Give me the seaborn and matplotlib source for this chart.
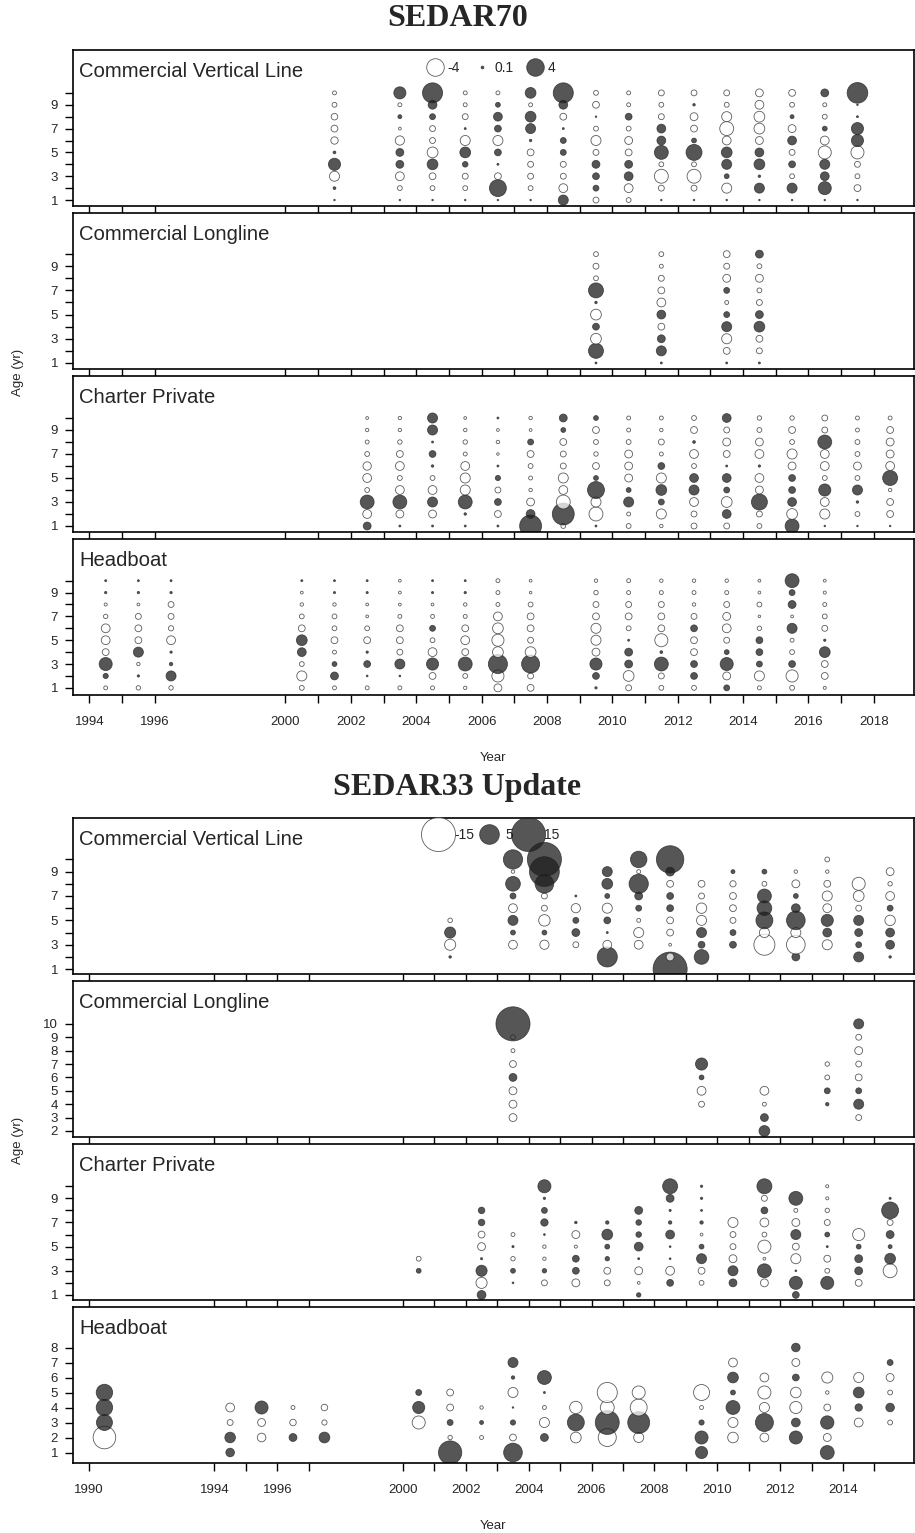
import numpy as np
import pandas as pd
import seaborn as sns
import matplotlib.pyplot as plt
from matplotlib.lines import Line2D

sns.set_style("ticks")
plt.rcParams['font.family'] = ['Liberation Sans', 'DejaVu Sans']

# ---- data: age composition residuals, columns are ages 1..n (None = no obs) ----
ages10 = list(range(1, 11))
ages8 = list(range(1, 9))

# SEDAR70
s70_cvl_years = [2001, 2003, 2004, 2005, 2006, 2007, 2008, 2009, 2010, 2011, 2012, 2013, 2014, 2015, 2016, 2017]
s70_cvl_res = [
    [0.03, 0.1, -1.3, 1.9, 0.1, -0.7, -0.6, -0.55, -0.3, -0.2],
    [0.03, -0.3, -1.0, 0.8, 0.8, -1.1, -0.1, 0.2, -0.2, 1.9],
    [0.03, -0.3, -0.6, 1.5, -1.5, -0.45, -0.45, 0.45, 1.0, 5.2],
    [0.03, -0.3, -0.45, 0.4, 1.5, -1.3, 0.05, -0.45, -0.2, -0.2],
    [0.03, 3.7, -0.6, 0.05, 0.6, -1.3, 0.6, 1.0, 0.3, -0.2],
    [0.03, -0.3, -0.45, -0.45, -0.6, 0.08, 1.3, 1.5, -0.2, 1.5],
    [1.3, -1.0, -0.45, -0.45, 0.45, 0.45, 0.05, -0.6, 1.0, 5.2],
    [-0.45, 0.45, 0.6, 0.8, -0.45, -1.3, -0.3, 0.03, -0.6, -0.3],
    [-0.3, -1.0, 1.0, 0.8, -0.6, -0.8, -0.3, 0.6, -0.2, -0.2],
    [0.03, -0.45, -2.5, -0.3, 2.5, 1.0, 1.0, -0.45, -0.3, -0.45],
    [0.03, -0.45, -2.5, -0.3, 3.3, 0.3, -0.6, -0.8, 0.08, -0.45],
    [0.03, -1.3, 0.3, 1.3, 1.5, -1.0, -2.5, -1.3, -0.3, -0.45],
    [0.03, 1.3, 0.08, 1.5, 1.0, -0.8, -1.5, -1.5, -1.0, -0.8],
    [0.03, 1.3, -0.3, 0.6, -0.45, 1.0, -0.8, 0.2, -0.3, -0.6],
    [0.03, 2.2, 1.0, 1.3, -2.2, -1.0, 0.3, -0.3, -0.2, 0.8],
    [0.03, -0.6, -0.3, -0.45, -2.2, 1.9, 1.9, 0.05, 0.03, 5.5],
]

s70_cl_years = [2009, 2011, 2013, 2014]
s70_cl_res = [
    [0.05, 2.9, -1.5, 0.6, -1.5, 0.08, 2.9, -0.3, -0.45, -0.3],
    [0.05, 1.3, 0.8, -0.6, 1.0, -1.0, -0.6, -0.45, -0.2, -0.3],
    [0.05, -0.6, -1.3, 1.3, 0.45, -0.2, 0.45, -0.8, -0.45, -0.6],
    [0.05, -0.45, -0.6, 1.5, 0.8, -0.45, -0.3, -0.8, -0.3, 0.8],
]

s70_cp_years = list(range(2002, 2019))
s70_cp_res = [
    [0.8, -1.0, 2.5, -0.3, -1.0, -0.9, -0.3, -0.2, -0.15, -0.1],
    [0.05, -0.8, 2.5, -1.0, -0.3, -1.0, -0.6, -0.25, -0.15, -0.15],
    [0.05, -0.8, 1.3, -1.0, -0.3, 0.08, 0.6, 0.05, 1.3, 1.3],
    [0.05, 0.08, 2.5, -1.3, -1.3, -1.0, -0.2, -0.25, -0.15, -0.1],
    [0.05, -0.6, 0.6, -0.45, 0.35, 0.05, -0.08, -0.15, -0.1, 0.05],
    [6.2, 1.0, -0.8, -0.15, -0.2, -0.3, -0.6, 0.45, -0.1, -0.15],
    [-0.3, 6.2, -2.5, -1.0, -1.3, -0.45, -0.45, -0.6, 0.3, 0.8],
    [0.05, -2.5, -1.3, 3.7, 0.3, -0.6, -0.25, -0.3, -0.6, 0.3],
    [-0.3, -0.2, 1.3, 0.3, -0.8, -0.8, -0.8, -0.3, -0.2, -0.2],
    [-0.15, -1.3, 0.45, 1.5, -1.3, 0.6, -0.2, -0.45, -0.15, -0.2],
    [-0.45, -0.45, -1.0, 1.3, 1.0, -0.3, -1.0, 0.1, -0.6, -0.3],
    [-0.45, 1.0, -1.5, 0.45, 1.0, 0.05, -0.6, -0.8, -0.45, 1.0],
    [-0.3, -0.45, 3.3, -0.8, -1.0, 0.07, -1.0, -0.8, -0.3, -0.25],
    [2.5, -1.5, 1.0, 0.6, 0.6, -0.8, -1.3, -0.3, -0.6, -0.25],
    [0.03, -1.3, -1.0, 1.9, -0.3, -1.0, -1.0, 2.5, -0.45, -0.45],
    [0.03, -0.3, 0.08, 1.3, -0.3, -0.8, -0.3, -0.3, -0.2, -0.2],
    [0.03, -0.6, -0.6, -0.15, 2.9, -1.0, -0.8, -0.8, -0.6, -0.2],
]

s70_hb_years = [1994, 1995, 1996, 2000, 2001, 2002, 2003, 2004, 2005, 2006, 2007,
                2009, 2010, 2011, 2012, 2013, 2014, 2015, 2016]
s70_hb_res = [
    [-0.2, 0.35, 2.2, -0.6, -1.0, -1.0, -0.25, -0.12, 0.07, 0.05],
    [-0.25, 0.07, -0.15, 1.3, -0.6, -0.6, -0.45, -0.1, 0.07, 0.05],
    [-0.25, 1.3, 0.15, 0.07, -1.0, -0.35, -0.45, -0.45, 0.07, 0.05],
    [-0.3, -1.3, -0.3, 1.0, 1.5, -0.6, -0.3, -0.15, -0.1, 0.05],
    [-0.2, 0.8, 0.3, -0.2, -0.6, -0.3, -0.3, -0.15, 0.06, 0.05],
    [-0.2, 0.04, 0.6, 0.07, -0.6, -0.3, -0.1, -0.1, 0.06, 0.05],
    [-0.2, 0.04, 1.3, -0.45, -0.6, -0.6, -0.2, -0.1, -0.1, -0.1],
    [-0.2, -0.6, 1.9, -1.0, -0.3, 0.45, -0.2, -0.1, 0.06, 0.05],
    [-0.15, -0.3, 2.5, -0.6, -1.0, -0.6, -0.2, -0.15, 0.07, 0.05],
    [-0.8, -1.9, 4.7, -1.5, -1.9, -1.5, -1.0, -0.2, -0.2, -0.2],
    [-0.6, -0.45, 4.2, -1.5, -0.45, -0.6, -0.6, -0.3, -0.08, -0.1],
    [0.07, 0.6, 1.9, -0.8, -1.3, -1.3, -0.6, -0.45, -0.25, -0.15],
    [-0.45, -1.5, 0.8, 0.8, 0.05, -0.3, -0.6, -0.45, -0.2, -0.2],
    [-0.3, -0.45, 2.5, 0.1, -2.2, -0.6, -0.6, -0.45, -0.2, -0.15],
    [-0.3, 0.6, 0.6, -0.6, -0.6, 0.6, -0.45, -0.15, -0.2, -0.15],
    [0.45, -0.8, 2.2, 0.3, -0.45, -1.0, -0.8, -0.45, -0.2, -0.15],
    [-0.2, -1.3, 0.45, 0.6, 0.6, -0.25, -0.08, -0.3, -0.1, -0.1],
    [-0.3, -1.9, 0.6, -0.3, -0.2, 1.3, -0.1, 0.8, 0.45, 2.5],
    [-0.12, -0.6, -0.6, 1.5, 0.07, -0.45, -0.3, -0.2, -0.12, -0.1],
]

# SEDAR33 Update
s33_cvl_years = [2001, 2003, 2004, 2005, 2006, 2007, 2008, 2009, 2010, 2011, 2012, 2013, 2014, 2015]
s33_cvl_res = [
    [None, 0.08, -1.6, 1.6, -0.27, None, None, None, None, None],
    [None, None, -1.0, 0.3, 1.3, -1.0, 0.45, 2.8, -0.15, 4.8],
    [None, None, -1.1, 0.3, -1.7, -0.45, -0.45, 4.5, 11.5, 15.0],
    [None, None, -0.45, 0.8, 0.45, -1.1, 0.05, None, None, None],
    [None, 5.2, -1.0, 0.05, 0.6, -1.3, 0.3, 1.5, 1.3, None],
    [None, None, -1.0, -1.3, -0.2, 0.45, 0.8, 4.8, -0.2, 3.5],
    [15.0, -0.8, -0.1, -0.6, -0.6, 0.6, 0.6, -0.6, 1.0, 9.7],
    [None, 2.8, 0.6, 1.3, -1.3, -1.4, -0.45, -0.6, None, None],
    [None, None, 0.6, 0.45, -0.45, -0.6, -0.6, -0.5, 0.2, None],
    [None, None, -5.7, -1.3, 3.7, 2.8, 2.5, -0.3, 0.3, None],
    [None, 0.8, -4.5, -1.3, 4.5, 1.0, 0.3, -0.8, -0.15, None],
    [None, None, -1.3, 1.0, 1.9, -1.0, -1.3, -0.6, -0.15, -0.3],
    [None, 1.3, 0.45, 0.8, 1.3, -0.45, -1.5, -2.2, None, None],
    [None, 0.08, 1.0, 1.0, -1.4, 0.45, -1.0, -0.25, -0.8, None],
]

s33_cl_years = [2003, 2009, 2011, 2013, 2014]
s33_cl_res = [
    [None, None, -0.8, -0.8, -0.8, 0.8, -0.6, -0.2, -0.3, 15.0],
    [None, None, None, -0.45, -1.0, 0.3, 1.9, None, None, None],
    [None, 1.5, 0.8, -0.2, -1.0, None, None, None, None, None],
    [None, None, None, 0.15, 0.45, -0.3, -0.25, None, None, None],
    [None, None, -0.45, 1.3, 0.45, -0.6, -0.45, -0.8, -0.45, 1.3],
]

s33_cp_years = [2000] + list(range(2002, 2016))
s33_cp_res = [
    [None, None, 0.3, -0.3, None, None, None, None, None, None],
    [1.0, -1.6, 1.6, 0.06, -0.8, -0.6, 0.55, 0.55, None, None],
    [None, 0.04, 0.3, -0.25, 0.06, -0.2, None, None, None, None],
    [None, -0.45, 0.25, -0.15, -0.15, 0.04, 0.7, 0.45, 0.07, 2.2],
    [None, -0.8, 0.6, 0.6, -0.12, -0.8, 0.08, None, None, None],
    [None, -0.45, -0.6, 0.25, 0.3, 1.5, 0.15, None, None, None],
    [0.25, -0.1, -0.8, 0.05, 1.0, 0.4, 0.4, 0.8, None, None],
    [None, 0.6, -1.0, 0.04, 0.04, 1.0, 0.15, 0.06, 0.8, 2.9],
    [None, -0.3, -0.6, 1.3, 0.3, -0.1, 0.15, 0.05, 0.07, 0.07],
    [None, 0.8, 1.3, -0.8, -0.45, -0.45, -1.3, None, None, None],
    [None, -0.8, 2.5, -0.1, -2.2, -0.3, -1.0, 0.6, -0.45, 2.9],
    [0.6, 2.2, 0.04, -1.3, -0.6, 1.3, -0.8, -0.2, 2.5, None],
    [None, 2.2, -0.3, -0.6, 0.05, 0.3, -0.45, -0.25, -0.12, -0.12],
    [None, -0.6, 0.8, 0.8, 0.3, -1.9, None, None, None, None],
    [None, None, -2.5, 1.5, 0.2, 0.8, -0.45, 3.7, 0.06, None],
]

s33_hb_years = [1990, 1994, 1995, 1996, 1997, 2000, 2001, 2002, 2003, 2004, 2005, 2006, 2007,
                2009, 2010, 2011, 2012, 2013, 2014, 2015]
s33_hb_res = [
    [None, -6.6, 3.3, 3.5, 3.5, None, None, None],
    [0.95, 1.45, -0.45, -1.0, None, None, None, None],
    [None, -0.95, -0.8, 2.2, None, None, None, None],
    [None, 0.8, -0.55, -0.2, None, None, None, None],
    [None, 1.5, -0.35, -0.55, None, None, None, None],
    [None, None, -2.2, 1.9, 0.45, None, None, None],
    [7.0, -0.25, 0.45, -0.6, -0.6, None, None, None],
    [None, -0.2, 0.2, -0.15, None, None, None, None],
    [4.5, -0.6, 0.35, 0.03, -1.3, 0.15, 1.3, None],
    [None, 0.8, -1.3, -0.2, 0.05, 2.5, None, None],
    [None, -1.5, 3.7, -2.0, None, None, None, None],
    [None, -4.2, 7.4, -2.5, -5.2, None, None, None],
    [None, -1.3, 6.2, -3.7, -2.2, None, None, None],
    [1.9, 2.2, 0.35, -0.2, -3.3, None, None, None],
    [None, -1.45, -1.3, 2.5, 0.3, 1.5, -1.0, None],
    [None, -1.0, 4.2, -1.3, -2.2, -1.0, None, None],
    [None, 2.2, 1.0, -1.9, -1.45, 0.6, -0.8, 0.95],
    [2.5, -0.8, 2.3, -0.6, -0.15, -1.6, None, None],
    [None, None, -1.0, 0.7, 1.5, -1.3, None, None],
    [None, None, -0.3, 0.95, -0.3, -0.8, 0.45, None],
]

legend70 = [-4, 0.1, 4]
legend33 = [-15, 5, 15]

# ---- styling ----
POS, NEG, EDGE = '#1e1e1e', 'white', '#262626'
AREA = 40.1          # points^2 per unit of |residual|
NORM_MAX = 20

W, H = 915, 1533
fig = plt.figure(figsize=(W / 100, H / 100), dpi=100)


def to_long(years, res, ages):
    rows = []
    for yr, col in zip(years, res):
        for age, r in zip(ages, col):
            if r is None:
                continue
            rows.append({'Year': yr, 'Age': age, 'Residual': r})
    df = pd.DataFrame(rows)
    df['x'] = df.Year + 0.5
    df['absres'] = df.Residual.abs()
    df['sign'] = np.where(df.Residual > 0, 'pos', 'neg')
    return df


def add_legend(ax, vals, anchor, hlen, hpad, cspace):
    handles = [Line2D([0], [0], marker='o', ls='none', markersize=np.sqrt(AREA * abs(v)),
                      markerfacecolor=POS if v > 0 else NEG, markeredgecolor=EDGE,
                      markeredgewidth=0.6, alpha=0.75) for v in vals]
    leg = ax.legend(handles, [f'{v:g}' for v in vals], ncol=3, loc='center', bbox_to_anchor=anchor,
                    frameon=False, fontsize=10, handlelength=hlen, handletextpad=hpad,
                    columnspacing=cspace, borderpad=0, borderaxespad=0)
    leg.set_zorder(5)


def draw_group(title, top_px, panels, xlim, legend_vals, leg_opts):
    all_years = sorted(set(y for p in panels for y in p[1]))
    for i, (name, years, res, ages, ylim, lab_step) in enumerate(panels):
        top = top_px + 163 * i
        ax = fig.add_axes([73 / W, 1 - (top + 156) / H, 841 / W, 156 / H])
        df = to_long(years, res, ages)
        sns.scatterplot(data=df, x='x', y='Age', hue='sign', palette={'pos': POS, 'neg': NEG},
                        size='absres', sizes=(0, AREA * NORM_MAX), size_norm=(0, NORM_MAX),
                        edgecolor=EDGE, linewidth=0.6, alpha=0.75, legend=False, ax=ax)
        ax.set_xlim(*xlim)
        ax.set_ylim(*ylim)
        top_age = df.Age.max()
        yt = [a for a in ages if a >= df.Age.min() and a <= top_age]
        if lab_step == 2:
            yt = [a for a in ages if a <= top_age]
        ax.set_yticks(yt)
        ax.set_yticklabels([str(a) if (a - yt[0]) % lab_step == 0 else '' for a in yt])
        ax.set_xticks(all_years)
        ax.set_xticklabels([str(y) if y % 2 == 0 else '' for y in all_years])
        ax.tick_params(axis='both', direction='out', length=5.8, width=1.0, color='black',
                       labelsize=9.5, pad=5)
        ax.tick_params(axis='x', pad=9)
        if i < len(panels) - 1:
            ax.tick_params(axis='x', labelbottom=False)
        for sp in ax.spines.values():
            sp.set_visible(True)
            sp.set_linewidth(1.2)
            sp.set_color('black')
        ax.set_xlabel('')
        ax.set_ylabel('')
        ax.text(0.007, 0.827, name, transform=ax.transAxes, fontsize=14.6, va='baseline', ha='left')
        if i == 0:
            add_legend(ax, legend_vals, **leg_opts)
    fig.text(0.5, 1 - (top_px - 31) / H, title, ha='center', va='center', fontsize=23,
             fontweight='bold', family=['Liberation Serif', 'DejaVu Serif'])
    bottom_px = top_px + 163 * 3 + 156
    fig.text((73 + 914) / 2 / W, 1 - (bottom_px + 63) / H, 'Year', ha='center', va='center',
             fontsize=9.5)
    fig.text(18 / W, 1 - (top_px + bottom_px) / 2 / H, 'Age (yr)', rotation=90, ha='center',
             va='center', fontsize=9.5)


draw_group('SEDAR70', 50, [
    ('Commercial Vertical Line', s70_cvl_years, s70_cvl_res, ages10, (0.5, 13.6), 2),
    ('Commercial Longline', s70_cl_years, s70_cl_res, ages10, (0.5, 13.4), 2),
    ('Charter Private', s70_cp_years, s70_cp_res, ages10, (0.5, 13.5), 2),
    ('Headboat', s70_hb_years, s70_hb_res, ages10, (0.4, 13.5), 2),
], (1993.5, 2019.23), legend70,
    dict(anchor=(0.497, 0.885), hlen=1.2, hpad=0.3, cspace=1.0))

draw_group('SEDAR33 Update', 818, [
    ('Commercial Vertical Line', s33_cvl_years, s33_cvl_res, ages10, (0.6, 13.4), 2),
    ('Commercial Longline', s33_cl_years, s33_cl_res, ages10, (1.55, 13.2), 1),
    ('Charter Private', s33_cp_years, s33_cp_res, ages10, (0.58, 13.5), 2),
    ('Headboat', s33_hb_years, s33_hb_res, ages8, (0.3, 10.7), 1),
], (1989.5, 2016.26), legend33,
    dict(anchor=(0.502, 0.89), hlen=1.0, hpad=0.7, cspace=0.55))

fig.savefig('out.png', dpi=100)
